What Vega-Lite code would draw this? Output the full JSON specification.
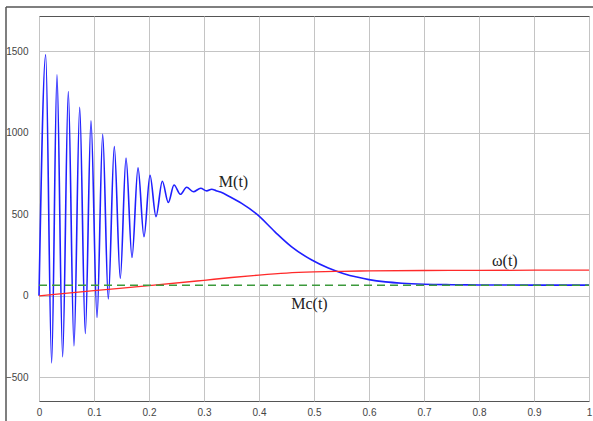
{
  "$schema": "https://vega.github.io/schema/vega-lite/v6.json",
  "width": 550,
  "height": 385,
  "autosize": "none",
  "padding": {"left": 39, "top": 16, "right": 4, "bottom": 20},
  "background": "white",
  "config": {
    "view": {"stroke": "#555555", "strokeWidth": 1},
    "axis": {
      "labelFont": "Liberation Sans",
      "labelFontSize": 10,
      "labelColor": "#444444",
      "gridColor": "#c4c4c4",
      "gridWidth": 1,
      "domain": false,
      "ticks": false,
      "title": null
    }
  },
  "datasets": {
    "M": [
      {"t": 0, "v": 0}, {"t": 0.0122, "v": 1477}, {"t": 0.023, "v": -411},
      {"t": 0.0327, "v": 1354}, {"t": 0.043, "v": -374},
      {"t": 0.0533, "v": 1252}, {"t": 0.0636, "v": -307},
      {"t": 0.074, "v": 1156}, {"t": 0.0842, "v": -231},
      {"t": 0.0945, "v": 1072}, {"t": 0.1055, "v": -133},
      {"t": 0.1158, "v": 990}, {"t": 0.126, "v": -20},
      {"t": 0.1369, "v": 914}, {"t": 0.1478, "v": 107},
      {"t": 0.1582, "v": 845}, {"t": 0.1691, "v": 235},
      {"t": 0.18, "v": 785}, {"t": 0.1909, "v": 362},
      {"t": 0.2018, "v": 739}, {"t": 0.2127, "v": 485},
      {"t": 0.2242, "v": 702}, {"t": 0.2351, "v": 572},
      {"t": 0.2455, "v": 679}, {"t": 0.257, "v": 622},
      {"t": 0.2685, "v": 665}, {"t": 0.2806, "v": 638},
      {"t": 0.294, "v": 659}, {"t": 0.305, "v": 643},
      {"t": 0.314, "v": 653}, {"t": 0.322, "v": 644},
      {"t": 0.33, "v": 636}, {"t": 0.347, "v": 607},
      {"t": 0.3685, "v": 566}, {"t": 0.396, "v": 500},
      {"t": 0.429, "v": 392}, {"t": 0.4594, "v": 300},
      {"t": 0.496, "v": 219}, {"t": 0.526, "v": 170},
      {"t": 0.553, "v": 137}, {"t": 0.58, "v": 113},
      {"t": 0.6, "v": 99}, {"t": 0.63, "v": 85},
      {"t": 0.66, "v": 77}, {"t": 0.7, "v": 71},
      {"t": 0.75, "v": 68}, {"t": 0.8, "v": 66.5},
      {"t": 0.9, "v": 65.5}, {"t": 1.0, "v": 65}
    ],
    "omega": [
      {"t": 0, "v": 0}, {"t": 0.1, "v": 32}, {"t": 0.2, "v": 62},
      {"t": 0.3, "v": 95}, {"t": 0.35, "v": 112}, {"t": 0.4, "v": 127},
      {"t": 0.45, "v": 139}, {"t": 0.5, "v": 146}, {"t": 0.55, "v": 150},
      {"t": 0.6, "v": 152.5}, {"t": 0.7, "v": 155}, {"t": 0.8, "v": 156},
      {"t": 1.0, "v": 157}
    ],
    "Mc": [
      {"t": 0, "v": 65}, {"t": 1, "v": 65}
    ],
    "labels": [
      {"t": 0.3536, "v": 699, "txt": "M(t)"},
      {"t": 0.847, "v": 214, "txt": "ω(t)"},
      {"t": 0.4918, "v": -48, "txt": "Mc(t)"}
    ],
    "frameV": [
      {"x": -0.06, "y": -770, "y2": 1770}
    ],
    "frameH": [
      {"x": -0.06, "x2": 1.008, "y": 1770}
    ]
  },
  "layer": [
    {
      "data": {"name": "M"},
      "mark": {"type": "line", "color": "#1f1fff", "strokeWidth": 1.6, "interpolate": "monotone"},
      "encoding": {
        "x": {
          "field": "t", "type": "quantitative",
          "scale": {"domain": [0, 1], "nice": false, "zero": false},
          "axis": {"values": [0, 0.1, 0.2, 0.3, 0.4, 0.5, 0.6, 0.7, 0.8, 0.9, 1], "format": "~g", "labelPadding": 6, "grid": true, "labelFlush": false}
        },
        "y": {
          "field": "v", "type": "quantitative",
          "scale": {"domain": [-645, 1715], "nice": false, "zero": false},
          "axis": {"values": [-500, 0, 500, 1000, 1500], "format": "d", "labelPadding": 11, "grid": true}
        }
      }
    },
    {
      "data": {"name": "omega"},
      "mark": {"type": "line", "color": "#ff2a2a", "strokeWidth": 1.3, "interpolate": "monotone"},
      "encoding": {
        "x": {"field": "t", "type": "quantitative"},
        "y": {"field": "v", "type": "quantitative"}
      }
    },
    {
      "data": {"name": "Mc"},
      "mark": {"type": "line", "color": "#3c9a3c", "strokeWidth": 1.5, "strokeDash": [8, 5]},
      "encoding": {
        "x": {"field": "t", "type": "quantitative"},
        "y": {"field": "v", "type": "quantitative"}
      }
    },
    {
      "data": {"name": "labels"},
      "mark": {"type": "text", "font": "Liberation Serif", "fontSize": 16, "color": "#222222", "align": "center", "baseline": "middle"},
      "encoding": {
        "x": {"field": "t", "type": "quantitative"},
        "y": {"field": "v", "type": "quantitative"},
        "text": {"field": "txt"}
      }
    },
    {
      "data": {"name": "frameV"},
      "mark": {"type": "rule", "color": "#555555", "strokeWidth": 1.5, "clip": false},
      "encoding": {
        "x": {"field": "x", "type": "quantitative"},
        "y": {"field": "y", "type": "quantitative"},
        "y2": {"field": "y2"}
      }
    },
    {
      "data": {"name": "frameH"},
      "mark": {"type": "rule", "color": "#555555", "strokeWidth": 1.5, "clip": false},
      "encoding": {
        "x": {"field": "x", "type": "quantitative"},
        "x2": {"field": "x2"},
        "y": {"field": "y", "type": "quantitative"}
      }
    }
  ]
}
